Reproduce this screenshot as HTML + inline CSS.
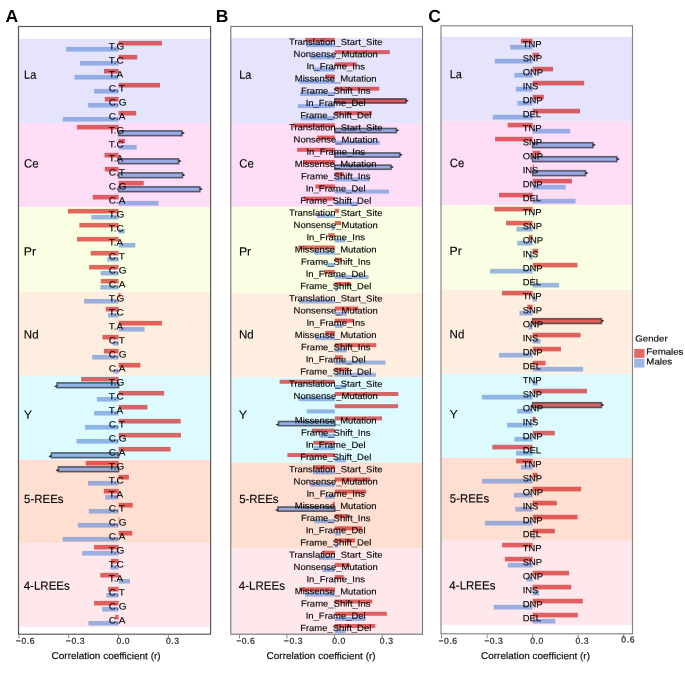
<!DOCTYPE html>
<html><head><meta charset="utf-8"><style>
html,body{margin:0;padding:0;background:#fff;width:685px;height:682px;overflow:hidden}
svg{display:block;will-change:transform}
text{font-family:"Liberation Sans",sans-serif;stroke-linejoin:round}
.rl{fill:#000;text-anchor:middle;stroke:#000;stroke-width:0.12px}
.gl{font-size:12.0px;fill:#000;stroke:#000;stroke-width:0.12px}
.tk{font-size:8.6px;letter-spacing:0.56px;fill:#2a2a2a;stroke:#2a2a2a;stroke-width:0.25px}
.xt{font-size:9.8px;fill:#111;text-anchor:middle;stroke:#111;stroke-width:0.2px}
.lg{font-size:8.8px;fill:#111;stroke:#111;stroke-width:0.2px}
.pl{font-size:17.5px;font-weight:bold;fill:#000}
</style></head><body>
<svg xmlns="http://www.w3.org/2000/svg" width="685" height="682" viewBox="0 0 685 682">
<clipPath id="clipA"><rect x="18.5" y="26.5" width="192.1" height="607.7"/></clipPath>
<clipPath id="clipB"><rect x="230.8" y="26.5" width="191.7" height="607.7"/></clipPath>
<clipPath id="clipC"><rect x="441" y="25.8" width="191.5" height="608"/></clipPath>
<g clip-path="url(#clipA)">
<rect x="18.5" y="26.5" width="192.1" height="607.7" fill="#fff"/>
<rect x="18.5" y="38.9" width="192.1" height="84.1" fill="#E6E4FD"/>
<rect x="18.5" y="123" width="192.1" height="84" fill="#FDDEF6"/>
<rect x="18.5" y="207" width="192.1" height="84.7" fill="#FAFFE4"/>
<rect x="18.5" y="291.7" width="192.1" height="84.1" fill="#FEEEE0"/>
<rect x="18.5" y="375.8" width="192.1" height="83.9" fill="#DDFAFF"/>
<rect x="18.5" y="459.7" width="192.1" height="83.2" fill="#FEDFD2"/>
<rect x="18.5" y="542.9" width="192.1" height="84.25" fill="#FEE8EB"/>
<rect x="118.6" y="40.9" width="43.3" height="4.6" fill="rgba(205,3,0,0.6)"/>
<rect x="66.1" y="46.95" width="52.5" height="4.6" fill="rgba(89,135,217,0.6)"/>
<rect x="118.6" y="54.9" width="18.7" height="4.6" fill="rgba(205,3,0,0.6)"/>
<rect x="80.1" y="60.95" width="38.5" height="4.6" fill="rgba(89,135,217,0.6)"/>
<rect x="103.9" y="68.9" width="14.7" height="4.6" fill="rgba(205,3,0,0.6)"/>
<rect x="74.5" y="74.95" width="44.1" height="4.6" fill="rgba(89,135,217,0.6)"/>
<rect x="118.6" y="82.9" width="41.4" height="4.6" fill="rgba(205,3,0,0.6)"/>
<rect x="94.1" y="88.95" width="24.5" height="4.6" fill="rgba(89,135,217,0.6)"/>
<rect x="104.8" y="96.9" width="13.8" height="4.6" fill="rgba(205,3,0,0.6)"/>
<rect x="88.2" y="102.95" width="30.4" height="4.6" fill="rgba(89,135,217,0.6)"/>
<rect x="118.6" y="110.9" width="17.6" height="4.6" fill="rgba(205,3,0,0.6)"/>
<rect x="62.7" y="116.95" width="55.9" height="4.6" fill="rgba(89,135,217,0.6)"/>
<rect x="77" y="124.9" width="41.6" height="4.6" fill="rgba(205,3,0,0.6)"/>
<rect x="118.6" y="138.9" width="6.3" height="4.6" fill="rgba(205,3,0,0.6)"/>
<rect x="118.6" y="144.95" width="18.1" height="4.6" fill="rgba(89,135,217,0.6)"/>
<rect x="104.5" y="152.9" width="14.1" height="4.6" fill="rgba(205,3,0,0.6)"/>
<rect x="104.8" y="166.9" width="13.8" height="4.6" fill="rgba(205,3,0,0.6)"/>
<rect x="118.6" y="180.9" width="25.1" height="4.6" fill="rgba(205,3,0,0.6)"/>
<rect x="92.7" y="194.9" width="25.9" height="4.6" fill="rgba(205,3,0,0.6)"/>
<rect x="118.6" y="200.95" width="40" height="4.6" fill="rgba(89,135,217,0.6)"/>
<rect x="68" y="208.9" width="50.6" height="4.6" fill="rgba(205,3,0,0.6)"/>
<rect x="91.3" y="214.95" width="27.3" height="4.6" fill="rgba(89,135,217,0.6)"/>
<rect x="79.3" y="222.9" width="39.3" height="4.6" fill="rgba(205,3,0,0.6)"/>
<rect x="118.6" y="228.95" width="6.1" height="4.6" fill="rgba(89,135,217,0.6)"/>
<rect x="77" y="236.9" width="41.6" height="4.6" fill="rgba(205,3,0,0.6)"/>
<rect x="118.6" y="242.95" width="16.7" height="4.6" fill="rgba(89,135,217,0.6)"/>
<rect x="90.7" y="250.9" width="27.9" height="4.6" fill="rgba(205,3,0,0.6)"/>
<rect x="107.3" y="256.95" width="11.3" height="4.6" fill="rgba(89,135,217,0.6)"/>
<rect x="89.1" y="264.9" width="29.5" height="4.6" fill="rgba(205,3,0,0.6)"/>
<rect x="100.6" y="270.95" width="18" height="4.6" fill="rgba(89,135,217,0.6)"/>
<rect x="100.8" y="278.9" width="17.8" height="4.6" fill="rgba(205,3,0,0.6)"/>
<rect x="100.3" y="284.95" width="18.3" height="4.6" fill="rgba(89,135,217,0.6)"/>
<rect x="118.6" y="292.9" width="1.9" height="4.6" fill="rgba(205,3,0,0.6)"/>
<rect x="84" y="298.95" width="34.6" height="4.6" fill="rgba(89,135,217,0.6)"/>
<rect x="105.9" y="306.9" width="12.7" height="4.6" fill="rgba(205,3,0,0.6)"/>
<rect x="108.1" y="312.95" width="10.5" height="4.6" fill="rgba(89,135,217,0.6)"/>
<rect x="118.6" y="320.9" width="43.3" height="4.6" fill="rgba(205,3,0,0.6)"/>
<rect x="118.6" y="326.95" width="26" height="4.6" fill="rgba(89,135,217,0.6)"/>
<rect x="102.5" y="334.9" width="16.1" height="4.6" fill="rgba(205,3,0,0.6)"/>
<rect x="112.9" y="340.95" width="5.7" height="4.6" fill="rgba(89,135,217,0.6)"/>
<rect x="103.9" y="348.9" width="14.7" height="4.6" fill="rgba(205,3,0,0.6)"/>
<rect x="92.2" y="354.95" width="26.4" height="4.6" fill="rgba(89,135,217,0.6)"/>
<rect x="118.6" y="362.9" width="21.8" height="4.6" fill="rgba(205,3,0,0.6)"/>
<rect x="113.7" y="368.95" width="4.9" height="4.6" fill="rgba(89,135,217,0.6)"/>
<rect x="81.2" y="376.9" width="37.4" height="4.6" fill="rgba(205,3,0,0.6)"/>
<rect x="118.6" y="390.9" width="45.6" height="4.6" fill="rgba(205,3,0,0.6)"/>
<rect x="96.9" y="396.95" width="21.7" height="4.6" fill="rgba(89,135,217,0.6)"/>
<rect x="118.6" y="404.9" width="28.8" height="4.6" fill="rgba(205,3,0,0.6)"/>
<rect x="94.1" y="410.95" width="24.5" height="4.6" fill="rgba(89,135,217,0.6)"/>
<rect x="118.6" y="418.9" width="62.1" height="4.6" fill="rgba(205,3,0,0.6)"/>
<rect x="85.1" y="424.95" width="33.5" height="4.6" fill="rgba(89,135,217,0.6)"/>
<rect x="118.6" y="432.9" width="62.4" height="4.6" fill="rgba(205,3,0,0.6)"/>
<rect x="76.5" y="438.95" width="42.1" height="4.6" fill="rgba(89,135,217,0.6)"/>
<rect x="118.6" y="446.9" width="52" height="4.6" fill="rgba(205,3,0,0.6)"/>
<rect x="85.7" y="460.9" width="32.9" height="4.6" fill="rgba(205,3,0,0.6)"/>
<rect x="118.6" y="474.9" width="10.3" height="4.6" fill="rgba(205,3,0,0.6)"/>
<rect x="88" y="480.95" width="30.6" height="4.6" fill="rgba(89,135,217,0.6)"/>
<rect x="103.9" y="488.9" width="14.7" height="4.6" fill="rgba(205,3,0,0.6)"/>
<rect x="105.3" y="494.95" width="13.3" height="4.6" fill="rgba(89,135,217,0.6)"/>
<rect x="118.6" y="502.9" width="14.2" height="4.6" fill="rgba(205,3,0,0.6)"/>
<rect x="88.8" y="508.95" width="29.8" height="4.6" fill="rgba(89,135,217,0.6)"/>
<rect x="118.6" y="516.9" width="0.7" height="4.6" fill="rgba(205,3,0,0.6)"/>
<rect x="77.9" y="522.95" width="40.7" height="4.6" fill="rgba(89,135,217,0.6)"/>
<rect x="118.6" y="530.9" width="13.6" height="4.6" fill="rgba(205,3,0,0.6)"/>
<rect x="62.7" y="536.95" width="55.9" height="4.6" fill="rgba(89,135,217,0.6)"/>
<rect x="94.1" y="544.9" width="24.5" height="4.6" fill="rgba(205,3,0,0.6)"/>
<rect x="82.1" y="550.95" width="36.5" height="4.6" fill="rgba(89,135,217,0.6)"/>
<rect x="110.9" y="558.9" width="7.7" height="4.6" fill="rgba(205,3,0,0.6)"/>
<rect x="110.4" y="564.95" width="8.2" height="4.6" fill="rgba(89,135,217,0.6)"/>
<rect x="100.3" y="572.9" width="18.3" height="4.6" fill="rgba(205,3,0,0.6)"/>
<rect x="118.6" y="578.95" width="11.4" height="4.6" fill="rgba(89,135,217,0.6)"/>
<rect x="108.1" y="586.9" width="10.5" height="4.6" fill="rgba(205,3,0,0.6)"/>
<rect x="106.4" y="592.95" width="12.2" height="4.6" fill="rgba(89,135,217,0.6)"/>
<rect x="94.1" y="600.9" width="24.5" height="4.6" fill="rgba(205,3,0,0.6)"/>
<rect x="102.2" y="606.95" width="16.4" height="4.6" fill="rgba(89,135,217,0.6)"/>
<rect x="115.1" y="614.9" width="3.5" height="4.6" fill="rgba(205,3,0,0.6)"/>
<rect x="88.5" y="620.95" width="30.1" height="4.6" fill="rgba(89,135,217,0.6)"/>
<rect x="118.6" y="130.83" width="63.35" height="4.84" fill="rgba(89,135,217,0.6)" stroke="#000" stroke-opacity="0.55" stroke-width="1.6"/>
<path d="M182.4 131.85L184.9 133.05L182.4 134.25Z" fill="#111"/>
<rect x="118.6" y="158.83" width="59.95" height="4.84" fill="rgba(89,135,217,0.6)" stroke="#000" stroke-opacity="0.55" stroke-width="1.6"/>
<path d="M179 159.85L181.5 161.05L179 162.25Z" fill="#111"/>
<rect x="118.6" y="172.83" width="63.85" height="4.84" fill="rgba(89,135,217,0.6)" stroke="#000" stroke-opacity="0.55" stroke-width="1.6"/>
<path d="M182.9 173.85L185.4 175.05L182.9 176.25Z" fill="#111"/>
<rect x="118.6" y="186.83" width="81.25" height="4.84" fill="rgba(89,135,217,0.6)" stroke="#000" stroke-opacity="0.55" stroke-width="1.6"/>
<path d="M200.3 187.85L202.8 189.05L200.3 190.25Z" fill="#111"/>
<rect x="57.05" y="382.83" width="61.55" height="4.84" fill="rgba(89,135,217,0.6)" stroke="#000" stroke-opacity="0.55" stroke-width="1.6"/>
<path d="M56.6 385.05L54.1 386.25L56.6 387.45Z" fill="#111"/>
<rect x="51.45" y="452.83" width="67.15" height="4.84" fill="rgba(89,135,217,0.6)" stroke="#000" stroke-opacity="0.55" stroke-width="1.6"/>
<path d="M51 455.05L48.5 456.25L51 457.45Z" fill="#111"/>
<rect x="58.45" y="466.83" width="60.15" height="4.84" fill="rgba(89,135,217,0.6)" stroke="#000" stroke-opacity="0.55" stroke-width="1.6"/>
<path d="M58 469.05L55.5 470.25L58 471.45Z" fill="#111"/>
<text transform="translate(108.8 49.44) matrix(1.083 0.002 0 1 0 0)" class="rl" style="font-size:9.25px;text-anchor:start">T.G</text>
<text transform="translate(108.8 63.44) matrix(1.083 0.002 0 1 0 0)" class="rl" style="font-size:9.25px;text-anchor:start">T.C</text>
<text transform="translate(108.8 77.44) matrix(1.083 0.002 0 1 0 0)" class="rl" style="font-size:9.25px;text-anchor:start">T.A</text>
<text transform="translate(108.8 91.44) matrix(1.083 0.002 0 1 0 0)" class="rl" style="font-size:9.25px;text-anchor:start">C.T</text>
<text transform="translate(108.8 105.44) matrix(1.083 0.002 0 1 0 0)" class="rl" style="font-size:9.25px;text-anchor:start">C.G</text>
<text transform="translate(108.8 119.44) matrix(1.083 0.002 0 1 0 0)" class="rl" style="font-size:9.25px;text-anchor:start">C.A</text>
<text transform="translate(108.8 133.44) matrix(1.083 0.002 0 1 0 0)" class="rl" style="font-size:9.25px;text-anchor:start">T.G</text>
<text transform="translate(108.8 147.44) matrix(1.083 0.002 0 1 0 0)" class="rl" style="font-size:9.25px;text-anchor:start">T.C</text>
<text transform="translate(108.8 161.44) matrix(1.083 0.002 0 1 0 0)" class="rl" style="font-size:9.25px;text-anchor:start">T.A</text>
<text transform="translate(108.8 175.44) matrix(1.083 0.002 0 1 0 0)" class="rl" style="font-size:9.25px;text-anchor:start">C.T</text>
<text transform="translate(108.8 189.44) matrix(1.083 0.002 0 1 0 0)" class="rl" style="font-size:9.25px;text-anchor:start">C.G</text>
<text transform="translate(108.8 203.44) matrix(1.083 0.002 0 1 0 0)" class="rl" style="font-size:9.25px;text-anchor:start">C.A</text>
<text transform="translate(108.8 217.44) matrix(1.083 0.002 0 1 0 0)" class="rl" style="font-size:9.25px;text-anchor:start">T.G</text>
<text transform="translate(108.8 231.44) matrix(1.083 0.002 0 1 0 0)" class="rl" style="font-size:9.25px;text-anchor:start">T.C</text>
<text transform="translate(108.8 245.44) matrix(1.083 0.002 0 1 0 0)" class="rl" style="font-size:9.25px;text-anchor:start">T.A</text>
<text transform="translate(108.8 259.44) matrix(1.083 0.002 0 1 0 0)" class="rl" style="font-size:9.25px;text-anchor:start">C.T</text>
<text transform="translate(108.8 273.44) matrix(1.083 0.002 0 1 0 0)" class="rl" style="font-size:9.25px;text-anchor:start">C.G</text>
<text transform="translate(108.8 287.44) matrix(1.083 0.002 0 1 0 0)" class="rl" style="font-size:9.25px;text-anchor:start">C.A</text>
<text transform="translate(108.8 301.44) matrix(1.083 0.002 0 1 0 0)" class="rl" style="font-size:9.25px;text-anchor:start">T.G</text>
<text transform="translate(108.8 315.44) matrix(1.083 0.002 0 1 0 0)" class="rl" style="font-size:9.25px;text-anchor:start">T.C</text>
<text transform="translate(108.8 329.44) matrix(1.083 0.002 0 1 0 0)" class="rl" style="font-size:9.25px;text-anchor:start">T.A</text>
<text transform="translate(108.8 343.44) matrix(1.083 0.002 0 1 0 0)" class="rl" style="font-size:9.25px;text-anchor:start">C.T</text>
<text transform="translate(108.8 357.44) matrix(1.083 0.002 0 1 0 0)" class="rl" style="font-size:9.25px;text-anchor:start">C.G</text>
<text transform="translate(108.8 371.44) matrix(1.083 0.002 0 1 0 0)" class="rl" style="font-size:9.25px;text-anchor:start">C.A</text>
<text transform="translate(108.8 385.44) matrix(1.083 0.002 0 1 0 0)" class="rl" style="font-size:9.25px;text-anchor:start">T.G</text>
<text transform="translate(108.8 399.44) matrix(1.083 0.002 0 1 0 0)" class="rl" style="font-size:9.25px;text-anchor:start">T.C</text>
<text transform="translate(108.8 413.44) matrix(1.083 0.002 0 1 0 0)" class="rl" style="font-size:9.25px;text-anchor:start">T.A</text>
<text transform="translate(108.8 427.44) matrix(1.083 0.002 0 1 0 0)" class="rl" style="font-size:9.25px;text-anchor:start">C.T</text>
<text transform="translate(108.8 441.44) matrix(1.083 0.002 0 1 0 0)" class="rl" style="font-size:9.25px;text-anchor:start">C.G</text>
<text transform="translate(108.8 455.44) matrix(1.083 0.002 0 1 0 0)" class="rl" style="font-size:9.25px;text-anchor:start">C.A</text>
<text transform="translate(108.8 469.44) matrix(1.083 0.002 0 1 0 0)" class="rl" style="font-size:9.25px;text-anchor:start">T.G</text>
<text transform="translate(108.8 483.44) matrix(1.083 0.002 0 1 0 0)" class="rl" style="font-size:9.25px;text-anchor:start">T.C</text>
<text transform="translate(108.8 497.44) matrix(1.083 0.002 0 1 0 0)" class="rl" style="font-size:9.25px;text-anchor:start">T.A</text>
<text transform="translate(108.8 511.44) matrix(1.083 0.002 0 1 0 0)" class="rl" style="font-size:9.25px;text-anchor:start">C.T</text>
<text transform="translate(108.8 525.44) matrix(1.083 0.002 0 1 0 0)" class="rl" style="font-size:9.25px;text-anchor:start">C.G</text>
<text transform="translate(108.8 539.44) matrix(1.083 0.002 0 1 0 0)" class="rl" style="font-size:9.25px;text-anchor:start">C.A</text>
<text transform="translate(108.8 553.44) matrix(1.083 0.002 0 1 0 0)" class="rl" style="font-size:9.25px;text-anchor:start">T.G</text>
<text transform="translate(108.8 567.44) matrix(1.083 0.002 0 1 0 0)" class="rl" style="font-size:9.25px;text-anchor:start">T.C</text>
<text transform="translate(108.8 581.44) matrix(1.083 0.002 0 1 0 0)" class="rl" style="font-size:9.25px;text-anchor:start">T.A</text>
<text transform="translate(108.8 595.44) matrix(1.083 0.002 0 1 0 0)" class="rl" style="font-size:9.25px;text-anchor:start">C.T</text>
<text transform="translate(108.8 609.44) matrix(1.083 0.002 0 1 0 0)" class="rl" style="font-size:9.25px;text-anchor:start">C.G</text>
<text transform="translate(108.8 623.44) matrix(1.083 0.002 0 1 0 0)" class="rl" style="font-size:9.25px;text-anchor:start">C.A</text>
<text transform="translate(24.07 78.69) matrix(0.91 0.002 0 1 0 0)" class="gl">La</text>
<text transform="translate(24.1 167.41) matrix(0.95 0.002 0 1 0 0)" class="gl">Ce</text>
<text transform="translate(23.81 255.39) matrix(1.02 0.002 0 1 0 0)" class="gl">Pr</text>
<text transform="translate(23.87 338.54) matrix(0.96 0.002 0 1 0 0)" class="gl">Nd</text>
<text transform="translate(23.72 418.69) matrix(1.04 0.002 0 1 0 0)" class="gl">Y</text>
<text transform="translate(24.09 502.89) matrix(0.953 0.002 0 1 0 0)" class="gl">5-REEs</text>
<text transform="translate(23.67 589.74) matrix(0.962 0.002 0 1 0 0)" class="gl">4-LREEs</text>
</g>
<rect x="18.5" y="26.5" width="192.1" height="607.7" fill="none" stroke="#555" stroke-width="1.15"/>
<line x1="19" y1="634.7" x2="19" y2="638.5" stroke="#888" stroke-width="1"/>
<text transform="translate(15.87 643.8) matrix(1 0.002 0 1 0 0)" class="tk">−0.6</text>
<line x1="68.7" y1="634.7" x2="68.7" y2="638.5" stroke="#888" stroke-width="1"/>
<text transform="translate(65.87 643.8) matrix(1 0.002 0 1 0 0)" class="tk">−0.3</text>
<line x1="118.55" y1="634.7" x2="118.55" y2="638.5" stroke="#888" stroke-width="1"/>
<text transform="translate(116.56 643.8) matrix(1 0.002 0 1 0 0)" class="tk">0.0</text>
<line x1="168.35" y1="634.7" x2="168.35" y2="638.5" stroke="#888" stroke-width="1"/>
<text transform="translate(165.96 643.8) matrix(1 0.002 0 1 0 0)" class="tk">0.3</text>
<text transform="translate(106.1 659.1) matrix(1.02 0.002 0 1 0 0)" class="xt">Correlation coefficient (r)</text>
<text transform="translate(5.4 21.9) matrix(1 0.002 0 1 0 0)" class="pl">A</text>
<g clip-path="url(#clipB)">
<rect x="230.8" y="26.5" width="191.7" height="607.7" fill="#fff"/>
<rect x="230.8" y="37.8" width="191.7" height="85.3" fill="#E6E4FD"/>
<rect x="230.8" y="123.1" width="191.7" height="83.7" fill="#FDDEF6"/>
<rect x="230.8" y="206.8" width="191.7" height="86.3" fill="#FAFFE4"/>
<rect x="230.8" y="293.1" width="191.7" height="84.3" fill="#FEEEE0"/>
<rect x="230.8" y="377.4" width="191.7" height="85.2" fill="#DDFAFF"/>
<rect x="230.8" y="462.6" width="191.7" height="85.5" fill="#FEDFD2"/>
<rect x="230.8" y="548.1" width="191.7" height="86.9" fill="#FEE8EB"/>
<rect x="305.3" y="37.9" width="29.5" height="4" fill="rgba(205,3,0,0.6)"/>
<rect x="306" y="43.1" width="28.8" height="4" fill="rgba(89,135,217,0.6)"/>
<rect x="334.8" y="50.11" width="55" height="4" fill="rgba(205,3,0,0.6)"/>
<rect x="310.2" y="55.31" width="24.6" height="4" fill="rgba(89,135,217,0.6)"/>
<rect x="334.8" y="62.32" width="21.9" height="4" fill="rgba(205,3,0,0.6)"/>
<rect x="313.5" y="67.52" width="21.3" height="4" fill="rgba(89,135,217,0.6)"/>
<rect x="324.9" y="74.53" width="9.9" height="4" fill="rgba(205,3,0,0.6)"/>
<rect x="299.2" y="79.73" width="35.6" height="4" fill="rgba(89,135,217,0.6)"/>
<rect x="334.8" y="86.74" width="44.5" height="4" fill="rgba(205,3,0,0.6)"/>
<rect x="300.2" y="91.94" width="34.6" height="4" fill="rgba(89,135,217,0.6)"/>
<rect x="297.9" y="104.15" width="36.9" height="4" fill="rgba(89,135,217,0.6)"/>
<rect x="334.8" y="111.16" width="37.1" height="4" fill="rgba(205,3,0,0.6)"/>
<rect x="301.1" y="116.36" width="33.7" height="4" fill="rgba(89,135,217,0.6)"/>
<rect x="292.9" y="123.37" width="41.9" height="4" fill="rgba(205,3,0,0.6)"/>
<rect x="317.2" y="135.58" width="17.6" height="4" fill="rgba(205,3,0,0.6)"/>
<rect x="334.8" y="140.78" width="45.1" height="4" fill="rgba(89,135,217,0.6)"/>
<rect x="297.1" y="147.79" width="37.7" height="4" fill="rgba(205,3,0,0.6)"/>
<rect x="303" y="160" width="31.8" height="4" fill="rgba(205,3,0,0.6)"/>
<rect x="334.8" y="172.21" width="9" height="4" fill="rgba(205,3,0,0.6)"/>
<rect x="334.8" y="177.41" width="35" height="4" fill="rgba(89,135,217,0.6)"/>
<rect x="315.4" y="184.42" width="19.4" height="4" fill="rgba(205,3,0,0.6)"/>
<rect x="334.8" y="189.62" width="54.2" height="4" fill="rgba(89,135,217,0.6)"/>
<rect x="303.6" y="196.63" width="31.2" height="4" fill="rgba(205,3,0,0.6)"/>
<rect x="334.8" y="201.83" width="23.3" height="4" fill="rgba(89,135,217,0.6)"/>
<rect x="334.8" y="208.84" width="4.3" height="4" fill="rgba(205,3,0,0.6)"/>
<rect x="317" y="214.04" width="17.8" height="4" fill="rgba(89,135,217,0.6)"/>
<rect x="334.8" y="221.05" width="6.3" height="4" fill="rgba(205,3,0,0.6)"/>
<rect x="331.3" y="226.25" width="3.5" height="4" fill="rgba(89,135,217,0.6)"/>
<rect x="328.2" y="233.26" width="6.6" height="4" fill="rgba(205,3,0,0.6)"/>
<rect x="334.8" y="238.46" width="10.4" height="4" fill="rgba(89,135,217,0.6)"/>
<rect x="298.2" y="245.47" width="36.6" height="4" fill="rgba(205,3,0,0.6)"/>
<rect x="313.9" y="250.67" width="20.9" height="4" fill="rgba(89,135,217,0.6)"/>
<rect x="334.8" y="257.68" width="6.7" height="4" fill="rgba(205,3,0,0.6)"/>
<rect x="326.2" y="262.88" width="8.6" height="4" fill="rgba(89,135,217,0.6)"/>
<rect x="324" y="269.89" width="10.8" height="4" fill="rgba(205,3,0,0.6)"/>
<rect x="334.8" y="275.09" width="33.9" height="4" fill="rgba(89,135,217,0.6)"/>
<rect x="334.8" y="282.1" width="15.9" height="4" fill="rgba(205,3,0,0.6)"/>
<rect x="334.8" y="287.3" width="3.1" height="4" fill="rgba(89,135,217,0.6)"/>
<rect x="299.2" y="299.51" width="35.6" height="4" fill="rgba(89,135,217,0.6)"/>
<rect x="334.8" y="306.52" width="23.5" height="4" fill="rgba(205,3,0,0.6)"/>
<rect x="334.8" y="311.72" width="11.8" height="4" fill="rgba(89,135,217,0.6)"/>
<rect x="334.8" y="318.73" width="19" height="4" fill="rgba(205,3,0,0.6)"/>
<rect x="334.8" y="323.93" width="7.8" height="4" fill="rgba(89,135,217,0.6)"/>
<rect x="325.2" y="330.94" width="9.6" height="4" fill="rgba(205,3,0,0.6)"/>
<rect x="315.4" y="336.14" width="19.4" height="4" fill="rgba(89,135,217,0.6)"/>
<rect x="334.8" y="343.15" width="41.5" height="4" fill="rgba(205,3,0,0.6)"/>
<rect x="334.8" y="348.35" width="11.8" height="4" fill="rgba(89,135,217,0.6)"/>
<rect x="334.8" y="355.36" width="7.8" height="4" fill="rgba(205,3,0,0.6)"/>
<rect x="334.8" y="360.56" width="50.7" height="4" fill="rgba(89,135,217,0.6)"/>
<rect x="334.8" y="367.57" width="13.3" height="4" fill="rgba(205,3,0,0.6)"/>
<rect x="334.8" y="372.77" width="41.1" height="4" fill="rgba(89,135,217,0.6)"/>
<rect x="279.6" y="379.78" width="55.2" height="4" fill="rgba(205,3,0,0.6)"/>
<rect x="334.8" y="384.98" width="11.2" height="4" fill="rgba(89,135,217,0.6)"/>
<rect x="334.8" y="391.99" width="63.5" height="4" fill="rgba(205,3,0,0.6)"/>
<rect x="298.6" y="397.19" width="36.2" height="4" fill="rgba(89,135,217,0.6)"/>
<rect x="334.8" y="404.2" width="63.3" height="4" fill="rgba(205,3,0,0.6)"/>
<rect x="306.8" y="409.4" width="28" height="4" fill="rgba(89,135,217,0.6)"/>
<rect x="334.8" y="416.41" width="47.2" height="4" fill="rgba(205,3,0,0.6)"/>
<rect x="311.9" y="428.62" width="22.9" height="4" fill="rgba(205,3,0,0.6)"/>
<rect x="319.5" y="433.82" width="15.3" height="4" fill="rgba(89,135,217,0.6)"/>
<rect x="313.3" y="440.83" width="21.5" height="4" fill="rgba(205,3,0,0.6)"/>
<rect x="313.3" y="446.03" width="21.5" height="4" fill="rgba(89,135,217,0.6)"/>
<rect x="287.4" y="453.04" width="47.4" height="4" fill="rgba(205,3,0,0.6)"/>
<rect x="334.8" y="458.24" width="11.2" height="4" fill="rgba(89,135,217,0.6)"/>
<rect x="313.3" y="465.25" width="21.5" height="4" fill="rgba(205,3,0,0.6)"/>
<rect x="312.9" y="470.45" width="21.9" height="4" fill="rgba(89,135,217,0.6)"/>
<rect x="334.8" y="477.46" width="35.3" height="4" fill="rgba(205,3,0,0.6)"/>
<rect x="310.5" y="482.66" width="24.3" height="4" fill="rgba(89,135,217,0.6)"/>
<rect x="334.8" y="489.67" width="31.3" height="4" fill="rgba(205,3,0,0.6)"/>
<rect x="325.2" y="494.87" width="9.6" height="4" fill="rgba(89,135,217,0.6)"/>
<rect x="332.8" y="501.88" width="2" height="4" fill="rgba(205,3,0,0.6)"/>
<rect x="334.8" y="514.09" width="13.2" height="4" fill="rgba(205,3,0,0.6)"/>
<rect x="314.1" y="519.29" width="20.7" height="4" fill="rgba(89,135,217,0.6)"/>
<rect x="334.8" y="526.3" width="27.3" height="4" fill="rgba(205,3,0,0.6)"/>
<rect x="334.8" y="531.5" width="5.9" height="4" fill="rgba(89,135,217,0.6)"/>
<rect x="334.8" y="538.51" width="20.4" height="4" fill="rgba(205,3,0,0.6)"/>
<rect x="334.8" y="543.71" width="3.2" height="4" fill="rgba(89,135,217,0.6)"/>
<rect x="322.1" y="550.72" width="12.7" height="4" fill="rgba(205,3,0,0.6)"/>
<rect x="319" y="555.92" width="15.8" height="4" fill="rgba(89,135,217,0.6)"/>
<rect x="334.8" y="562.93" width="14.9" height="4" fill="rgba(205,3,0,0.6)"/>
<rect x="322.7" y="568.13" width="12.1" height="4" fill="rgba(89,135,217,0.6)"/>
<rect x="334.8" y="575.14" width="8.9" height="4" fill="rgba(205,3,0,0.6)"/>
<rect x="334.8" y="580.34" width="1.1" height="4" fill="rgba(89,135,217,0.6)"/>
<rect x="299.2" y="587.35" width="35.6" height="4" fill="rgba(205,3,0,0.6)"/>
<rect x="305.2" y="592.55" width="29.6" height="4" fill="rgba(89,135,217,0.6)"/>
<rect x="334.8" y="599.56" width="37.4" height="4" fill="rgba(205,3,0,0.6)"/>
<rect x="334.8" y="604.76" width="1.2" height="4" fill="rgba(89,135,217,0.6)"/>
<rect x="334.8" y="611.77" width="52.1" height="4" fill="rgba(205,3,0,0.6)"/>
<rect x="334.8" y="616.97" width="30.8" height="4" fill="rgba(89,135,217,0.6)"/>
<rect x="334.8" y="623.98" width="40.5" height="4" fill="rgba(205,3,0,0.6)"/>
<rect x="334.8" y="629.18" width="10.8" height="4" fill="rgba(89,135,217,0.6)"/>
<rect x="334.8" y="98.83" width="71.05" height="4.24" fill="rgba(205,3,0,0.6)" stroke="#000" stroke-opacity="0.55" stroke-width="1.6"/>
<path d="M406.3 99.55L408.8 100.75L406.3 101.95Z" fill="#111"/>
<rect x="334.8" y="128.45" width="61.45" height="4.24" fill="rgba(89,135,217,0.6)" stroke="#000" stroke-opacity="0.55" stroke-width="1.6"/>
<path d="M396.7 129.17L399.2 130.37L396.7 131.57Z" fill="#111"/>
<rect x="334.8" y="152.87" width="64.85" height="4.24" fill="rgba(89,135,217,0.6)" stroke="#000" stroke-opacity="0.55" stroke-width="1.6"/>
<path d="M400.1 153.59L402.6 154.79L400.1 155.99Z" fill="#111"/>
<rect x="334.8" y="165.08" width="56.15" height="4.24" fill="rgba(89,135,217,0.6)" stroke="#000" stroke-opacity="0.55" stroke-width="1.6"/>
<path d="M391.4 165.8L393.9 167L391.4 168.2Z" fill="#111"/>
<rect x="278.55" y="421.49" width="56.25" height="4.24" fill="rgba(89,135,217,0.6)" stroke="#000" stroke-opacity="0.55" stroke-width="1.6"/>
<path d="M278.1 423.41L275.6 424.61L278.1 425.81Z" fill="#111"/>
<rect x="277.95" y="506.96" width="56.85" height="4.24" fill="rgba(89,135,217,0.6)" stroke="#000" stroke-opacity="0.55" stroke-width="1.6"/>
<path d="M277.5 508.88L275 510.08L277.5 511.28Z" fill="#111"/>
<text transform="translate(335.7 44.94) matrix(1.067 0.002 0 1 0 0)" class="rl" style="font-size:8.9px;text-anchor:middle">Translation_Start_Site</text>
<text transform="translate(335.7 57.15) matrix(1.067 0.002 0 1 0 0)" class="rl" style="font-size:8.9px;text-anchor:middle">Nonsense_Mutation</text>
<text transform="translate(335.7 69.36) matrix(1.067 0.002 0 1 0 0)" class="rl" style="font-size:8.9px;text-anchor:middle">In_Frame_Ins</text>
<text transform="translate(335.7 81.57) matrix(1.067 0.002 0 1 0 0)" class="rl" style="font-size:8.9px;text-anchor:middle">Missense_Mutation</text>
<text transform="translate(335.7 93.78) matrix(1.067 0.002 0 1 0 0)" class="rl" style="font-size:8.9px;text-anchor:middle">Frame_Shift_Ins</text>
<text transform="translate(335.7 105.99) matrix(1.067 0.002 0 1 0 0)" class="rl" style="font-size:8.9px;text-anchor:middle">In_Frame_Del</text>
<text transform="translate(335.7 118.2) matrix(1.067 0.002 0 1 0 0)" class="rl" style="font-size:8.9px;text-anchor:middle">Frame_Shift_Del</text>
<text transform="translate(335.7 130.41) matrix(1.067 0.002 0 1 0 0)" class="rl" style="font-size:8.9px;text-anchor:middle">Translation_Start_Site</text>
<text transform="translate(335.7 142.62) matrix(1.067 0.002 0 1 0 0)" class="rl" style="font-size:8.9px;text-anchor:middle">Nonsense_Mutation</text>
<text transform="translate(335.7 154.83) matrix(1.067 0.002 0 1 0 0)" class="rl" style="font-size:8.9px;text-anchor:middle">In_Frame_Ins</text>
<text transform="translate(335.7 167.04) matrix(1.067 0.002 0 1 0 0)" class="rl" style="font-size:8.9px;text-anchor:middle">Missense_Mutation</text>
<text transform="translate(335.7 179.25) matrix(1.067 0.002 0 1 0 0)" class="rl" style="font-size:8.9px;text-anchor:middle">Frame_Shift_Ins</text>
<text transform="translate(335.7 191.46) matrix(1.067 0.002 0 1 0 0)" class="rl" style="font-size:8.9px;text-anchor:middle">In_Frame_Del</text>
<text transform="translate(335.7 203.67) matrix(1.067 0.002 0 1 0 0)" class="rl" style="font-size:8.9px;text-anchor:middle">Frame_Shift_Del</text>
<text transform="translate(335.7 215.88) matrix(1.067 0.002 0 1 0 0)" class="rl" style="font-size:8.9px;text-anchor:middle">Translation_Start_Site</text>
<text transform="translate(335.7 228.09) matrix(1.067 0.002 0 1 0 0)" class="rl" style="font-size:8.9px;text-anchor:middle">Nonsense_Mutation</text>
<text transform="translate(335.7 240.3) matrix(1.067 0.002 0 1 0 0)" class="rl" style="font-size:8.9px;text-anchor:middle">In_Frame_Ins</text>
<text transform="translate(335.7 252.51) matrix(1.067 0.002 0 1 0 0)" class="rl" style="font-size:8.9px;text-anchor:middle">Missense_Mutation</text>
<text transform="translate(335.7 264.72) matrix(1.067 0.002 0 1 0 0)" class="rl" style="font-size:8.9px;text-anchor:middle">Frame_Shift_Ins</text>
<text transform="translate(335.7 276.93) matrix(1.067 0.002 0 1 0 0)" class="rl" style="font-size:8.9px;text-anchor:middle">In_Frame_Del</text>
<text transform="translate(335.7 289.14) matrix(1.067 0.002 0 1 0 0)" class="rl" style="font-size:8.9px;text-anchor:middle">Frame_Shift_Del</text>
<text transform="translate(335.7 301.35) matrix(1.067 0.002 0 1 0 0)" class="rl" style="font-size:8.9px;text-anchor:middle">Translation_Start_Site</text>
<text transform="translate(335.7 313.56) matrix(1.067 0.002 0 1 0 0)" class="rl" style="font-size:8.9px;text-anchor:middle">Nonsense_Mutation</text>
<text transform="translate(335.7 325.77) matrix(1.067 0.002 0 1 0 0)" class="rl" style="font-size:8.9px;text-anchor:middle">In_Frame_Ins</text>
<text transform="translate(335.7 337.98) matrix(1.067 0.002 0 1 0 0)" class="rl" style="font-size:8.9px;text-anchor:middle">Missense_Mutation</text>
<text transform="translate(335.7 350.19) matrix(1.067 0.002 0 1 0 0)" class="rl" style="font-size:8.9px;text-anchor:middle">Frame_Shift_Ins</text>
<text transform="translate(335.7 362.4) matrix(1.067 0.002 0 1 0 0)" class="rl" style="font-size:8.9px;text-anchor:middle">In_Frame_Del</text>
<text transform="translate(335.7 374.61) matrix(1.067 0.002 0 1 0 0)" class="rl" style="font-size:8.9px;text-anchor:middle">Frame_Shift_Del</text>
<text transform="translate(335.7 386.82) matrix(1.067 0.002 0 1 0 0)" class="rl" style="font-size:8.9px;text-anchor:middle">Translation_Start_Site</text>
<text transform="translate(335.7 399.03) matrix(1.067 0.002 0 1 0 0)" class="rl" style="font-size:8.9px;text-anchor:middle">Nonsense_Mutation</text>
<text transform="translate(335.7 423.45) matrix(1.067 0.002 0 1 0 0)" class="rl" style="font-size:8.9px;text-anchor:middle">Missense_Mutation</text>
<text transform="translate(335.7 435.66) matrix(1.067 0.002 0 1 0 0)" class="rl" style="font-size:8.9px;text-anchor:middle">Frame_Shift_Ins</text>
<text transform="translate(335.7 447.87) matrix(1.067 0.002 0 1 0 0)" class="rl" style="font-size:8.9px;text-anchor:middle">In_Frame_Del</text>
<text transform="translate(335.7 460.08) matrix(1.067 0.002 0 1 0 0)" class="rl" style="font-size:8.9px;text-anchor:middle">Frame_Shift_Del</text>
<text transform="translate(335.7 472.29) matrix(1.067 0.002 0 1 0 0)" class="rl" style="font-size:8.9px;text-anchor:middle">Translation_Start_Site</text>
<text transform="translate(335.7 484.5) matrix(1.067 0.002 0 1 0 0)" class="rl" style="font-size:8.9px;text-anchor:middle">Nonsense_Mutation</text>
<text transform="translate(335.7 496.71) matrix(1.067 0.002 0 1 0 0)" class="rl" style="font-size:8.9px;text-anchor:middle">In_Frame_Ins</text>
<text transform="translate(335.7 508.92) matrix(1.067 0.002 0 1 0 0)" class="rl" style="font-size:8.9px;text-anchor:middle">Missense_Mutation</text>
<text transform="translate(335.7 521.13) matrix(1.067 0.002 0 1 0 0)" class="rl" style="font-size:8.9px;text-anchor:middle">Frame_Shift_Ins</text>
<text transform="translate(335.7 533.34) matrix(1.067 0.002 0 1 0 0)" class="rl" style="font-size:8.9px;text-anchor:middle">In_Frame_Del</text>
<text transform="translate(335.7 545.55) matrix(1.067 0.002 0 1 0 0)" class="rl" style="font-size:8.9px;text-anchor:middle">Frame_Shift_Del</text>
<text transform="translate(335.7 557.76) matrix(1.067 0.002 0 1 0 0)" class="rl" style="font-size:8.9px;text-anchor:middle">Translation_Start_Site</text>
<text transform="translate(335.7 569.97) matrix(1.067 0.002 0 1 0 0)" class="rl" style="font-size:8.9px;text-anchor:middle">Nonsense_Mutation</text>
<text transform="translate(335.7 582.18) matrix(1.067 0.002 0 1 0 0)" class="rl" style="font-size:8.9px;text-anchor:middle">In_Frame_Ins</text>
<text transform="translate(335.7 594.39) matrix(1.067 0.002 0 1 0 0)" class="rl" style="font-size:8.9px;text-anchor:middle">Missense_Mutation</text>
<text transform="translate(335.7 606.6) matrix(1.067 0.002 0 1 0 0)" class="rl" style="font-size:8.9px;text-anchor:middle">Frame_Shift_Ins</text>
<text transform="translate(335.7 618.81) matrix(1.067 0.002 0 1 0 0)" class="rl" style="font-size:8.9px;text-anchor:middle">In_Frame_Del</text>
<text transform="translate(335.7 631.02) matrix(1.067 0.002 0 1 0 0)" class="rl" style="font-size:8.9px;text-anchor:middle">Frame_Shift_Del</text>
<text transform="translate(239.17 78.69) matrix(0.91 0.002 0 1 0 0)" class="gl">La</text>
<text transform="translate(239.2 167.41) matrix(0.95 0.002 0 1 0 0)" class="gl">Ce</text>
<text transform="translate(238.91 255.39) matrix(1.02 0.002 0 1 0 0)" class="gl">Pr</text>
<text transform="translate(238.97 338.54) matrix(0.96 0.002 0 1 0 0)" class="gl">Nd</text>
<text transform="translate(238.82 418.69) matrix(1.04 0.002 0 1 0 0)" class="gl">Y</text>
<text transform="translate(239.19 502.89) matrix(0.953 0.002 0 1 0 0)" class="gl">5-REEs</text>
<text transform="translate(238.77 589.74) matrix(0.962 0.002 0 1 0 0)" class="gl">4-LREEs</text>
</g>
<rect x="230.8" y="26.5" width="191.7" height="607.7" fill="none" stroke="#7a7a7a" stroke-width="1.15"/>
<line x1="239.5" y1="634.7" x2="239.5" y2="638.5" stroke="#888" stroke-width="1"/>
<text transform="translate(236.17 643.8) matrix(1 0.002 0 1 0 0)" class="tk">−0.6</text>
<line x1="286.9" y1="634.7" x2="286.9" y2="638.5" stroke="#888" stroke-width="1"/>
<text transform="translate(283.87 643.8) matrix(1 0.002 0 1 0 0)" class="tk">−0.3</text>
<line x1="334.6" y1="634.7" x2="334.6" y2="638.5" stroke="#888" stroke-width="1"/>
<text transform="translate(332.26 643.8) matrix(1 0.002 0 1 0 0)" class="tk">0.0</text>
<line x1="382.2" y1="634.7" x2="382.2" y2="638.5" stroke="#888" stroke-width="1"/>
<text transform="translate(379.86 643.8) matrix(1 0.002 0 1 0 0)" class="tk">0.3</text>
<text transform="translate(321.1 659.1) matrix(1.02 0.002 0 1 0 0)" class="xt">Correlation coefficient (r)</text>
<text transform="translate(215.8 21.9) matrix(1 0.002 0 1 0 0)" class="pl">B</text>
<g clip-path="url(#clipC)">
<rect x="441" y="25.8" width="191.5" height="608" fill="#fff"/>
<rect x="441" y="36.9" width="191.5" height="84.4" fill="#E6E4FD"/>
<rect x="441" y="121.3" width="191.5" height="83.8" fill="#FDDEF6"/>
<rect x="441" y="205.1" width="191.5" height="84.8" fill="#FAFFE4"/>
<rect x="441" y="289.9" width="191.5" height="84" fill="#FEEEE0"/>
<rect x="441" y="373.9" width="191.5" height="83.9" fill="#DDFAFF"/>
<rect x="441" y="457.8" width="191.5" height="83" fill="#FEDFD2"/>
<rect x="441" y="540.8" width="191.5" height="84.2" fill="#FEE8EB"/>
<rect x="520.9" y="38.8" width="11.7" height="4.6" fill="rgba(205,3,0,0.6)"/>
<rect x="510.2" y="44.85" width="22.4" height="4.65" fill="rgba(89,135,217,0.6)"/>
<rect x="532.6" y="52.8" width="6.5" height="4.6" fill="rgba(205,3,0,0.6)"/>
<rect x="494.8" y="58.85" width="37.8" height="4.65" fill="rgba(89,135,217,0.6)"/>
<rect x="532.6" y="66.8" width="20.5" height="4.6" fill="rgba(205,3,0,0.6)"/>
<rect x="514.4" y="72.85" width="18.2" height="4.65" fill="rgba(89,135,217,0.6)"/>
<rect x="532.6" y="80.8" width="51.6" height="4.6" fill="rgba(205,3,0,0.6)"/>
<rect x="515.8" y="86.85" width="16.8" height="4.65" fill="rgba(89,135,217,0.6)"/>
<rect x="532.6" y="94.8" width="11.3" height="4.6" fill="rgba(205,3,0,0.6)"/>
<rect x="517.5" y="100.85" width="15.1" height="4.65" fill="rgba(89,135,217,0.6)"/>
<rect x="532.6" y="108.8" width="47.4" height="4.6" fill="rgba(205,3,0,0.6)"/>
<rect x="492.8" y="114.85" width="39.8" height="4.65" fill="rgba(89,135,217,0.6)"/>
<rect x="507.7" y="122.8" width="24.9" height="4.6" fill="rgba(205,3,0,0.6)"/>
<rect x="532.6" y="128.85" width="37.6" height="4.65" fill="rgba(89,135,217,0.6)"/>
<rect x="495.1" y="136.8" width="37.5" height="4.6" fill="rgba(205,3,0,0.6)"/>
<rect x="532.6" y="150.8" width="7.9" height="4.6" fill="rgba(205,3,0,0.6)"/>
<rect x="532.6" y="164.8" width="1.4" height="4.6" fill="rgba(205,3,0,0.6)"/>
<rect x="532.6" y="178.8" width="39.3" height="4.6" fill="rgba(205,3,0,0.6)"/>
<rect x="532.6" y="184.85" width="33.1" height="4.65" fill="rgba(89,135,217,0.6)"/>
<rect x="499" y="192.8" width="33.6" height="4.6" fill="rgba(205,3,0,0.6)"/>
<rect x="532.6" y="198.85" width="42.9" height="4.65" fill="rgba(89,135,217,0.6)"/>
<rect x="494.3" y="206.8" width="38.3" height="4.6" fill="rgba(205,3,0,0.6)"/>
<rect x="532.6" y="212.85" width="1.1" height="4.65" fill="rgba(89,135,217,0.6)"/>
<rect x="506" y="220.8" width="26.6" height="4.6" fill="rgba(205,3,0,0.6)"/>
<rect x="516.4" y="226.85" width="16.2" height="4.65" fill="rgba(89,135,217,0.6)"/>
<rect x="529" y="234.8" width="3.6" height="4.6" fill="rgba(205,3,0,0.6)"/>
<rect x="517.2" y="240.85" width="15.4" height="4.65" fill="rgba(89,135,217,0.6)"/>
<rect x="532.6" y="248.8" width="5.6" height="4.6" fill="rgba(205,3,0,0.6)"/>
<rect x="529.2" y="254.85" width="3.4" height="4.65" fill="rgba(89,135,217,0.6)"/>
<rect x="532.6" y="262.8" width="44.9" height="4.6" fill="rgba(205,3,0,0.6)"/>
<rect x="490" y="268.85" width="42.6" height="4.65" fill="rgba(89,135,217,0.6)"/>
<rect x="532.2" y="276.8" width="0.7" height="4.6" fill="rgba(205,3,0,0.6)"/>
<rect x="532.6" y="282.85" width="26.5" height="4.65" fill="rgba(89,135,217,0.6)"/>
<rect x="502.1" y="290.8" width="30.5" height="4.6" fill="rgba(205,3,0,0.6)"/>
<rect x="532.6" y="296.85" width="4.3" height="4.65" fill="rgba(89,135,217,0.6)"/>
<rect x="527.3" y="304.8" width="5.3" height="4.6" fill="rgba(205,3,0,0.6)"/>
<rect x="519.5" y="310.85" width="13.1" height="4.65" fill="rgba(89,135,217,0.6)"/>
<rect x="528.4" y="324.85" width="4.2" height="4.65" fill="rgba(89,135,217,0.6)"/>
<rect x="532.6" y="332.8" width="48" height="4.6" fill="rgba(205,3,0,0.6)"/>
<rect x="532.6" y="338.85" width="7.9" height="4.65" fill="rgba(89,135,217,0.6)"/>
<rect x="532.6" y="346.8" width="28.4" height="4.6" fill="rgba(205,3,0,0.6)"/>
<rect x="499" y="352.85" width="33.6" height="4.65" fill="rgba(89,135,217,0.6)"/>
<rect x="532.6" y="360.8" width="12.9" height="4.6" fill="rgba(205,3,0,0.6)"/>
<rect x="532.6" y="366.85" width="50.5" height="4.65" fill="rgba(89,135,217,0.6)"/>
<rect x="532.6" y="380.85" width="5.1" height="4.65" fill="rgba(89,135,217,0.6)"/>
<rect x="532.6" y="388.8" width="54.4" height="4.6" fill="rgba(205,3,0,0.6)"/>
<rect x="481.9" y="394.85" width="50.7" height="4.65" fill="rgba(89,135,217,0.6)"/>
<rect x="517.2" y="408.85" width="15.4" height="4.65" fill="rgba(89,135,217,0.6)"/>
<rect x="532.6" y="416.8" width="3.1" height="4.6" fill="rgba(205,3,0,0.6)"/>
<rect x="507.1" y="422.85" width="25.5" height="4.65" fill="rgba(89,135,217,0.6)"/>
<rect x="532.6" y="430.8" width="22.2" height="4.6" fill="rgba(205,3,0,0.6)"/>
<rect x="514.4" y="436.85" width="18.2" height="4.65" fill="rgba(89,135,217,0.6)"/>
<rect x="492.3" y="444.8" width="40.3" height="4.6" fill="rgba(205,3,0,0.6)"/>
<rect x="516.1" y="450.85" width="16.5" height="4.65" fill="rgba(89,135,217,0.6)"/>
<rect x="516.1" y="458.8" width="16.5" height="4.6" fill="rgba(205,3,0,0.6)"/>
<rect x="520.9" y="464.85" width="11.7" height="4.65" fill="rgba(89,135,217,0.6)"/>
<rect x="532.6" y="472.8" width="5.1" height="4.6" fill="rgba(205,3,0,0.6)"/>
<rect x="481.9" y="478.85" width="50.7" height="4.65" fill="rgba(89,135,217,0.6)"/>
<rect x="532.6" y="486.8" width="48.5" height="4.6" fill="rgba(205,3,0,0.6)"/>
<rect x="513.9" y="492.85" width="18.7" height="4.65" fill="rgba(89,135,217,0.6)"/>
<rect x="532.6" y="500.8" width="24.2" height="4.6" fill="rgba(205,3,0,0.6)"/>
<rect x="515.3" y="506.85" width="17.3" height="4.65" fill="rgba(89,135,217,0.6)"/>
<rect x="532.6" y="514.8" width="44.9" height="4.6" fill="rgba(205,3,0,0.6)"/>
<rect x="485" y="520.85" width="47.6" height="4.65" fill="rgba(89,135,217,0.6)"/>
<rect x="532.6" y="528.8" width="22.2" height="4.6" fill="rgba(205,3,0,0.6)"/>
<rect x="532.6" y="534.85" width="2" height="4.65" fill="rgba(89,135,217,0.6)"/>
<rect x="502.1" y="542.8" width="30.5" height="4.6" fill="rgba(205,3,0,0.6)"/>
<rect x="504.9" y="556.8" width="27.7" height="4.6" fill="rgba(205,3,0,0.6)"/>
<rect x="507.7" y="562.85" width="24.9" height="4.65" fill="rgba(89,135,217,0.6)"/>
<rect x="532.6" y="570.8" width="36.5" height="4.6" fill="rgba(205,3,0,0.6)"/>
<rect x="526.5" y="576.85" width="6.1" height="4.65" fill="rgba(89,135,217,0.6)"/>
<rect x="532.6" y="584.8" width="38.7" height="4.6" fill="rgba(205,3,0,0.6)"/>
<rect x="532.6" y="590.85" width="6.5" height="4.65" fill="rgba(89,135,217,0.6)"/>
<rect x="532.6" y="598.8" width="50.2" height="4.6" fill="rgba(205,3,0,0.6)"/>
<rect x="493.7" y="604.85" width="38.9" height="4.65" fill="rgba(89,135,217,0.6)"/>
<rect x="532.6" y="612.8" width="45.2" height="4.6" fill="rgba(205,3,0,0.6)"/>
<rect x="532.6" y="618.85" width="22.8" height="4.65" fill="rgba(89,135,217,0.6)"/>
<rect x="532.6" y="142.73" width="60.35" height="4.89" fill="rgba(89,135,217,0.6)" stroke="#000" stroke-opacity="0.55" stroke-width="1.6"/>
<path d="M593.4 143.78L595.9 144.98L593.4 146.18Z" fill="#111"/>
<rect x="532.6" y="156.73" width="84.25" height="4.89" fill="rgba(89,135,217,0.6)" stroke="#000" stroke-opacity="0.55" stroke-width="1.6"/>
<path d="M617.3 157.78L619.8 158.98L617.3 160.18Z" fill="#111"/>
<rect x="532.6" y="170.73" width="52.85" height="4.89" fill="rgba(89,135,217,0.6)" stroke="#000" stroke-opacity="0.55" stroke-width="1.6"/>
<path d="M585.9 171.78L588.4 172.98L585.9 174.18Z" fill="#111"/>
<rect x="532.6" y="318.68" width="68.85" height="4.84" fill="rgba(205,3,0,0.6)" stroke="#000" stroke-opacity="0.55" stroke-width="1.6"/>
<path d="M601.9 319.7L604.4 320.9L601.9 322.1Z" fill="#111"/>
<rect x="532.6" y="402.68" width="68.85" height="4.84" fill="rgba(205,3,0,0.6)" stroke="#000" stroke-opacity="0.55" stroke-width="1.6"/>
<path d="M601.9 403.7L604.4 404.9L601.9 406.1Z" fill="#111"/>
<text transform="translate(522.65 47.35) matrix(1.05 0.002 0 1 0 0)" class="rl" style="font-size:9.0px;text-anchor:start">TNP</text>
<text transform="translate(522.65 61.35) matrix(1.05 0.002 0 1 0 0)" class="rl" style="font-size:9.0px;text-anchor:start">SNP</text>
<text transform="translate(522.65 75.35) matrix(1.05 0.002 0 1 0 0)" class="rl" style="font-size:9.0px;text-anchor:start">ONP</text>
<text transform="translate(522.65 89.35) matrix(1.05 0.002 0 1 0 0)" class="rl" style="font-size:9.0px;text-anchor:start">INS</text>
<text transform="translate(522.65 103.35) matrix(1.05 0.002 0 1 0 0)" class="rl" style="font-size:9.0px;text-anchor:start">DNP</text>
<text transform="translate(522.65 117.35) matrix(1.05 0.002 0 1 0 0)" class="rl" style="font-size:9.0px;text-anchor:start">DEL</text>
<text transform="translate(522.65 131.35) matrix(1.05 0.002 0 1 0 0)" class="rl" style="font-size:9.0px;text-anchor:start">TNP</text>
<text transform="translate(522.65 145.35) matrix(1.05 0.002 0 1 0 0)" class="rl" style="font-size:9.0px;text-anchor:start">SNP</text>
<text transform="translate(522.65 159.35) matrix(1.05 0.002 0 1 0 0)" class="rl" style="font-size:9.0px;text-anchor:start">ONP</text>
<text transform="translate(522.65 173.35) matrix(1.05 0.002 0 1 0 0)" class="rl" style="font-size:9.0px;text-anchor:start">INS</text>
<text transform="translate(522.65 187.35) matrix(1.05 0.002 0 1 0 0)" class="rl" style="font-size:9.0px;text-anchor:start">DNP</text>
<text transform="translate(522.65 201.35) matrix(1.05 0.002 0 1 0 0)" class="rl" style="font-size:9.0px;text-anchor:start">DEL</text>
<text transform="translate(522.65 215.35) matrix(1.05 0.002 0 1 0 0)" class="rl" style="font-size:9.0px;text-anchor:start">TNP</text>
<text transform="translate(522.65 229.35) matrix(1.05 0.002 0 1 0 0)" class="rl" style="font-size:9.0px;text-anchor:start">SNP</text>
<text transform="translate(522.65 243.35) matrix(1.05 0.002 0 1 0 0)" class="rl" style="font-size:9.0px;text-anchor:start">ONP</text>
<text transform="translate(522.65 257.35) matrix(1.05 0.002 0 1 0 0)" class="rl" style="font-size:9.0px;text-anchor:start">INS</text>
<text transform="translate(522.65 271.35) matrix(1.05 0.002 0 1 0 0)" class="rl" style="font-size:9.0px;text-anchor:start">DNP</text>
<text transform="translate(522.65 285.35) matrix(1.05 0.002 0 1 0 0)" class="rl" style="font-size:9.0px;text-anchor:start">DEL</text>
<text transform="translate(522.65 299.35) matrix(1.05 0.002 0 1 0 0)" class="rl" style="font-size:9.0px;text-anchor:start">TNP</text>
<text transform="translate(522.65 313.35) matrix(1.05 0.002 0 1 0 0)" class="rl" style="font-size:9.0px;text-anchor:start">SNP</text>
<text transform="translate(522.65 327.35) matrix(1.05 0.002 0 1 0 0)" class="rl" style="font-size:9.0px;text-anchor:start">ONP</text>
<text transform="translate(522.65 341.35) matrix(1.05 0.002 0 1 0 0)" class="rl" style="font-size:9.0px;text-anchor:start">INS</text>
<text transform="translate(522.65 355.35) matrix(1.05 0.002 0 1 0 0)" class="rl" style="font-size:9.0px;text-anchor:start">DNP</text>
<text transform="translate(522.65 369.35) matrix(1.05 0.002 0 1 0 0)" class="rl" style="font-size:9.0px;text-anchor:start">DEL</text>
<text transform="translate(522.65 383.35) matrix(1.05 0.002 0 1 0 0)" class="rl" style="font-size:9.0px;text-anchor:start">TNP</text>
<text transform="translate(522.65 397.35) matrix(1.05 0.002 0 1 0 0)" class="rl" style="font-size:9.0px;text-anchor:start">SNP</text>
<text transform="translate(522.65 411.35) matrix(1.05 0.002 0 1 0 0)" class="rl" style="font-size:9.0px;text-anchor:start">ONP</text>
<text transform="translate(522.65 425.35) matrix(1.05 0.002 0 1 0 0)" class="rl" style="font-size:9.0px;text-anchor:start">INS</text>
<text transform="translate(522.65 439.35) matrix(1.05 0.002 0 1 0 0)" class="rl" style="font-size:9.0px;text-anchor:start">DNP</text>
<text transform="translate(522.65 453.35) matrix(1.05 0.002 0 1 0 0)" class="rl" style="font-size:9.0px;text-anchor:start">DEL</text>
<text transform="translate(522.65 467.35) matrix(1.05 0.002 0 1 0 0)" class="rl" style="font-size:9.0px;text-anchor:start">TNP</text>
<text transform="translate(522.65 481.35) matrix(1.05 0.002 0 1 0 0)" class="rl" style="font-size:9.0px;text-anchor:start">SNP</text>
<text transform="translate(522.65 495.35) matrix(1.05 0.002 0 1 0 0)" class="rl" style="font-size:9.0px;text-anchor:start">ONP</text>
<text transform="translate(522.65 509.35) matrix(1.05 0.002 0 1 0 0)" class="rl" style="font-size:9.0px;text-anchor:start">INS</text>
<text transform="translate(522.65 523.35) matrix(1.05 0.002 0 1 0 0)" class="rl" style="font-size:9.0px;text-anchor:start">DNP</text>
<text transform="translate(522.65 537.35) matrix(1.05 0.002 0 1 0 0)" class="rl" style="font-size:9.0px;text-anchor:start">DEL</text>
<text transform="translate(522.65 551.35) matrix(1.05 0.002 0 1 0 0)" class="rl" style="font-size:9.0px;text-anchor:start">TNP</text>
<text transform="translate(522.65 565.35) matrix(1.05 0.002 0 1 0 0)" class="rl" style="font-size:9.0px;text-anchor:start">SNP</text>
<text transform="translate(522.65 579.35) matrix(1.05 0.002 0 1 0 0)" class="rl" style="font-size:9.0px;text-anchor:start">ONP</text>
<text transform="translate(522.65 593.35) matrix(1.05 0.002 0 1 0 0)" class="rl" style="font-size:9.0px;text-anchor:start">INS</text>
<text transform="translate(522.65 607.35) matrix(1.05 0.002 0 1 0 0)" class="rl" style="font-size:9.0px;text-anchor:start">DNP</text>
<text transform="translate(522.65 621.35) matrix(1.05 0.002 0 1 0 0)" class="rl" style="font-size:9.0px;text-anchor:start">DEL</text>
<text transform="translate(449.77 78.34) matrix(0.91 0.002 0 1 0 0)" class="gl">La</text>
<text transform="translate(449.8 167.06) matrix(0.95 0.002 0 1 0 0)" class="gl">Ce</text>
<text transform="translate(449.51 255.04) matrix(1.02 0.002 0 1 0 0)" class="gl">Pr</text>
<text transform="translate(449.57 338.19) matrix(0.96 0.002 0 1 0 0)" class="gl">Nd</text>
<text transform="translate(449.42 418.34) matrix(1.04 0.002 0 1 0 0)" class="gl">Y</text>
<text transform="translate(449.79 502.54) matrix(0.953 0.002 0 1 0 0)" class="gl">5-REEs</text>
<text transform="translate(449.37 589.39) matrix(0.962 0.002 0 1 0 0)" class="gl">4-LREEs</text>
</g>
<rect x="441" y="25.8" width="191.5" height="608" fill="none" stroke="#858585" stroke-width="1.15"/>
<line x1="441.5" y1="634.3" x2="441.5" y2="638.1" stroke="#888" stroke-width="1"/>
<text transform="translate(438.47 643.8) matrix(1 0.002 0 1 0 0)" class="tk">−0.6</text>
<line x1="487.2" y1="634.3" x2="487.2" y2="638.1" stroke="#888" stroke-width="1"/>
<text transform="translate(484.17 643.8) matrix(1 0.002 0 1 0 0)" class="tk">−0.3</text>
<line x1="532.6" y1="634.3" x2="532.6" y2="638.1" stroke="#888" stroke-width="1"/>
<text transform="translate(530.26 643.8) matrix(1 0.002 0 1 0 0)" class="tk">0.0</text>
<line x1="578.1" y1="634.3" x2="578.1" y2="638.1" stroke="#888" stroke-width="1"/>
<text transform="translate(575.46 643.8) matrix(1 0.002 0 1 0 0)" class="tk">0.3</text>
<line x1="623.6" y1="634.3" x2="623.6" y2="638.1" stroke="#888" stroke-width="1"/>
<text transform="translate(621.36 642.6) matrix(1 0.002 0 1 0 0)" class="tk">0.6</text>
<text transform="translate(535.5 659.1) matrix(1.02 0.002 0 1 0 0)" class="xt">Correlation coefficient (r)</text>
<text transform="translate(428.2 21.9) matrix(1 0.002 0 1 0 0)" class="pl">C</text>
<text transform="translate(635.32 341.4) matrix(1.1 0.002 0 1 0 0)" class="lg">Gender</text>
<rect x="634.2" y="348.9" width="10.3" height="8.9" fill="rgba(205,3,0,0.6)"/>
<rect x="634.2" y="358.7" width="10.3" height="8.9" fill="rgba(89,135,217,0.6)"/>
<text transform="translate(646.33 354.6) matrix(1.1 0.002 0 1 0 0)" class="lg">Females</text>
<text transform="translate(646.33 364.5) matrix(1.1 0.002 0 1 0 0)" class="lg">Males</text>
</svg>
</body></html>
